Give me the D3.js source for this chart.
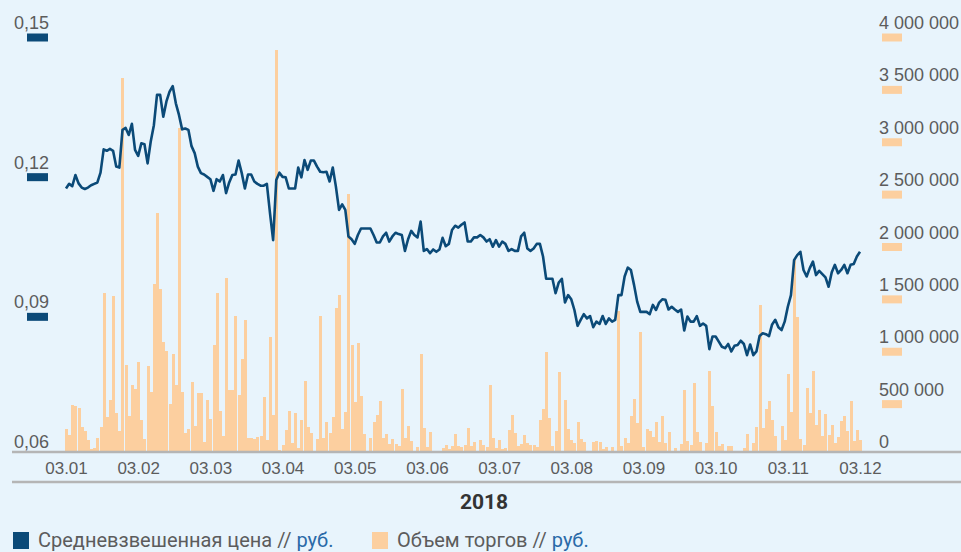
<!DOCTYPE html>
<meta charset="utf-8">
<style>
body { margin: 0; background: #e8f4fc; }
svg { display: block; font-family: Roboto, sans-serif; }
.axis text { fill: #5c5c5c; font-size: 17px; }
.axis.y text { font-size: 18px; }
.axis .domain { display: none; }
.legend text { fill: #5c5c5c; font-size: 20px; }
</style>
<body>
<script src="https://cdn.jsdelivr.net/npm/d3@7"></script>
<script>

// date labels on the x axis (one every 23 trading days)
var dateLabels = ["03.01", "03.02", "03.03", "03.04", "03.05", "03.06",
                  "03.07", "03.08", "03.09", "03.10", "03.11", "03.12"];

var priceTicks = [0.06, 0.09, 0.12, 0.15];
var volumeTicks = [0, 500, 1000, 1500, 2000, 2500, 3000, 3500, 4000]; // thousand rub.

// weighted average price, rub.
var price = [
  0.1166,0.1176,0.1171,0.1195,0.1177,0.1168,0.1165,0.1168,0.1173,0.1176,
  0.1179,0.1200,0.1250,0.1247,0.1251,0.1247,0.1213,0.1211,0.1292,0.1296,
  0.1281,0.1305,0.1249,0.1236,0.1263,0.1261,0.1220,0.1267,0.1302,0.1367,
  0.1367,0.1320,0.1353,0.1374,0.1386,0.1349,0.1324,0.1293,0.1295,0.1292,
  0.1257,0.1242,0.1213,0.1199,0.1196,0.1191,0.1186,0.1161,0.1186,0.1181,
  0.1195,0.1156,0.1179,0.1195,0.1196,0.1226,0.1199,0.1166,0.1196,0.1196,
  0.1181,0.1176,0.1172,0.1172,0.1176,0.1113,0.1055,0.1184,0.1200,0.1191,
  0.1190,0.1166,0.1166,0.1166,0.1211,0.1190,0.1227,0.1206,0.1226,0.1226,
  0.1213,0.1202,0.1201,0.1202,0.1181,0.1211,0.1170,0.1120,0.1132,0.1120,
  0.1063,0.1057,0.1047,0.1066,0.1080,0.1080,0.1080,0.1080,0.1066,0.1050,
  0.1050,0.1063,0.1071,0.1052,0.1063,0.1071,0.1068,0.1066,0.1032,0.1057,
  0.1075,0.1066,0.1061,0.1095,0.1032,0.1036,0.1027,0.1035,0.1030,0.1035,
  0.1060,0.1042,0.1047,0.1077,0.1086,0.1082,0.1088,0.1093,0.1052,0.1052,
  0.1061,0.1061,0.1066,0.1061,0.1052,0.1057,0.1041,0.1055,0.1041,0.1052,
  0.1047,0.1032,0.1036,0.1032,0.1032,0.1063,0.1071,0.1037,0.1032,0.1037,
  0.1047,0.1047,0.1020,0.0972,0.0972,0.0972,0.0941,0.0964,0.0972,0.0921,
  0.0937,0.0928,0.0905,0.0871,0.0884,0.0896,0.0887,0.0892,0.0868,0.0880,
  0.0875,0.0892,0.0875,0.0887,0.0880,0.0884,0.0937,0.0937,0.0977,0.0996,
  0.0991,0.0959,0.0923,0.0901,0.0901,0.0901,0.0896,0.0916,0.0905,0.0921,
  0.0928,0.0927,0.0906,0.0912,0.0906,0.0901,0.0906,0.0861,0.0891,0.0880,
  0.0880,0.0892,0.0871,0.0876,0.0871,0.0821,0.0848,0.0848,0.0837,0.0826,
  0.0823,0.0832,0.0816,0.0828,0.0830,0.0839,0.0832,0.0808,0.0831,0.0808,
  0.0816,0.0849,0.0855,0.0853,0.0849,0.0874,0.0884,0.0868,0.0862,0.0880,
  0.0912,0.0937,0.1012,0.1023,0.1030,0.0991,0.0977,0.0995,0.1009,0.0980,
  0.0989,0.0982,0.0975,0.0955,0.0986,0.1002,0.0984,0.0991,0.1002,0.0984,
  0.1002,0.1004,0.1020,0.1030
];

// trading volume, thousand rub.
var volume = [
  220,162,449,439,420,239,200,115,32,38,
  134,239,1515,334,496,1489,372,200,3567,831,
  344,640,601,859,309,124,821,573,1601,2278,
  1556,1050,964,458,936,640,3090,573,181,220,
  668,248,563,563,99,496,315,1021,1515,391,
  153,1658,592,592,1298,544,888,1260,134,134,
  124,143,153,525,115,1098,353,3837,19,67,
  210,391,86,372,38,305,678,239,181,0,
  124,1298,134,286,181,334,1371,1499,220,382,
  2463,1021,477,1041,535,172,0,134,286,353,
  487,134,172,76,124,76,57,601,134,248,
  105,0,48,936,229,48,191,0,0,0,
  38,67,29,57,172,57,48,67,229,57,
  95,0,115,67,48,640,134,38,115,29,
  38,210,353,181,57,76,162,86,67,67,
  48,305,410,955,325,57,200,764,0,496,
  220,115,86,286,124,95,0,0,95,105,
  95,29,48,0,48,0,1346,57,134,86,
  344,506,277,1146,48,220,200,143,286,95,
  344,86,191,0,38,0,76,592,105,67,
  659,191,95,0,86,773,439,191,57,76,
  0,57,57,0,0,0,38,172,0,86,
  239,1403,229,410,487,305,153,0,248,115,
  745,382,1833,1289,124,67,611,372,773,258,
  401,153,363,162,258,86,143,296,344,200,
  487,105,210,115
];

var width = 961, height = 552;
var lineColor = "#0b4a78", barColor = "#fccf9f";

var ru = d3.formatLocale({decimal: ",", thousands: " ", grouping: [3], currency: ["", ""]});
var fmtPrice = ru.format(".2f");
var fmtVol = ru.format(",d");

var svg = d3.select("body").append("svg")
    .attr("width", width)
    .attr("height", height);

svg.append("rect")
    .attr("width", width)
    .attr("height", height)
    .attr("fill", "#e8f4fc");

// scales
var x = d3.scaleLinear().domain([0, price.length - 1]).range([66, 860]);
var yPrice = d3.scaleLinear().domain([0.06, 0.15]).range([452, 33]);
var yVol = d3.scaleLinear().domain([0, 4000]).range([452, 33]);

// volume bars
svg.append("g")
    .attr("shape-rendering", "crispEdges")
  .selectAll("rect")
    .data(volume)
    .enter().append("rect")
    .attr("x", function(d, i) { return x(i) - 1; })
    .attr("width", 3)
    .attr("y", function(d) { return yVol(d); })
    .attr("height", function(d) { return yVol(0) - yVol(d); })
    .attr("fill", barColor);

// price line
var valueline = d3.line()
    .x(function(d, i) { return x(i); })
    .y(function(d) { return yPrice(d); });

svg.append("path")
    .datum(price)
    .attr("d", valueline)
    .attr("fill", "none")
    .attr("stroke", lineColor)
    .attr("stroke-width", 2.6)
    .attr("stroke-linejoin", "round");

// baseline and separator
svg.append("line")
    .attr("x1", 12).attr("x2", width)
    .attr("y1", 452).attr("y2", 452)
    .attr("stroke", "#b5b5b5").attr("stroke-width", 2.5);

svg.append("line")
    .attr("x1", 12).attr("x2", width)
    .attr("y1", 482).attr("y2", 482)
    .attr("stroke", "#b5b5b5").attr("stroke-width", 2.5);

// left axis
var leftAxis = svg.append("g")
    .attr("class", "axis y")
    .attr("transform", "translate(49,0)")
    .call(d3.axisLeft(yPrice).tickValues(priceTicks).tickFormat(fmtPrice).tickSize(0).tickPadding(0));
leftAxis.selectAll("text").attr("dy", "-4.5");
leftAxis.selectAll(".tick").filter(function(d) { return d > 0.06; })
  .append("rect")
    .attr("x", -22).attr("y", 0)
    .attr("width", 21).attr("height", 8)
    .attr("fill", lineColor);

// right axis
var rightAxis = svg.append("g")
    .attr("class", "axis y")
    .attr("transform", "translate(879,0)")
    .call(d3.axisRight(yVol).tickValues(volumeTicks)
      .tickFormat(function(d) { return fmtVol(d * 1000); }).tickSize(0).tickPadding(0));
rightAxis.selectAll("text").attr("dy", "-4.5");
rightAxis.selectAll(".tick").filter(function(d) { return d > 0; })
  .append("rect")
    .attr("x", 3).attr("y", 0)
    .attr("width", 20).attr("height", 8)
    .attr("fill", barColor);

// x axis
svg.append("g")
    .attr("class", "axis")
    .attr("transform", "translate(0,452)")
    .call(d3.axisBottom(x)
      .tickValues(d3.range(0, price.length, 23))
      .tickFormat(function(d, i) { return dateLabels[i]; })
      .tickSize(0).tickPadding(10));

svg.append("text")
    .attr("x", 484).attr("y", 509)
    .attr("text-anchor", "middle")
    .attr("font-size", 21)
    .attr("font-weight", "bold")
    .attr("fill", "#333")
    .text("2018");

// legend
var legend = svg.append("g").attr("class", "legend");
var items = [
  {label: "Средневзвешенная цена // ", color: lineColor, x: 13},
  {label: "Объем торгов // ", color: barColor, x: 372}
];
items.forEach(function(it) {
  legend.append("rect")
      .attr("x", it.x).attr("y", 532)
      .attr("width", 16).attr("height", 17)
      .attr("fill", it.color);
  var t = legend.append("text")
      .attr("x", it.x + 25).attr("y", 547)
      .text(it.label);
  t.append("tspan").attr("fill", "#2a6aa8").text("руб.");
});

</script>
</body>
